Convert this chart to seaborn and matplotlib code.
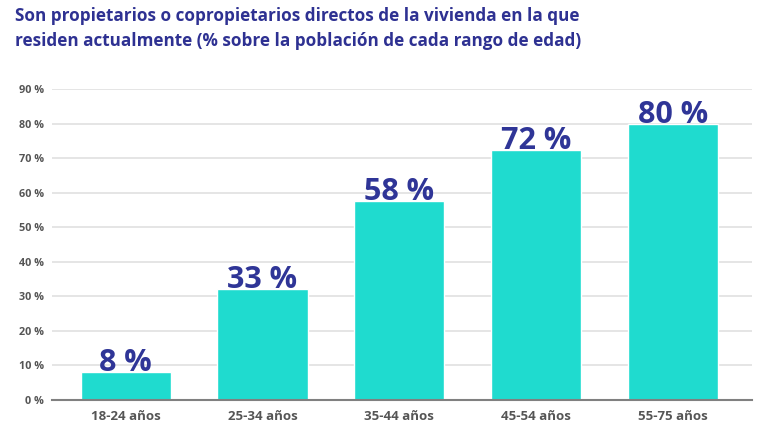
import matplotlib.pyplot as plt
import seaborn as sns
import pandas as pd

# datos
rangos = ["18-24 años", "25-34 años", "35-44 años", "45-54 años", "55-75 años"]
valores = [8.2, 32.2, 57.6, 72.4, 80.0]
etiquetas = ["8 %", "33 %", "58 %", "72 %", "80 %"]
ticks_y = [0, 10, 20, 30, 40, 50, 60, 70, 80, 90]

df = pd.DataFrame({"rango": rangos, "valor": valores})

sns.set_style("white")
plt.rcParams['font.family'] = ['Open Sans', 'DejaVu Sans']

fig = plt.figure(figsize=(7.69, 4.37), dpi=100)
ax = fig.add_axes([52 / 769, 37 / 437, 700 / 769, 311 / 437])

sns.barplot(data=df, x="rango", y="valor", color="#1fdbcf", saturation=1,
            width=0.66, ax=ax, zorder=3)

for p, txt in zip(ax.patches, etiquetas):
    ax.annotate(txt, (p.get_x() + p.get_width() / 2, p.get_height()),
                xytext=(0, 0.5), textcoords="offset points",
                ha="center", va="baseline", fontsize=22, fontweight="bold",
                color="#2f3597")

ax.set_ylim(0, 90)
ax.set_xlim(-0.54, 4.58)
ax.set_yticks(ticks_y)
ax.set_yticklabels([f"{t} %" for t in ticks_y], fontsize=7.8,
                   fontweight="bold", color="#555555")
ax.tick_params(axis="x", labelsize=9.5, labelcolor="#555555", length=0, pad=7)
ax.tick_params(axis="y", length=0, pad=6)
for lab in ax.get_xticklabels():
    lab.set_fontweight("bold")
ax.set_xlabel("")
ax.set_ylabel("")

ax.grid(axis="y", color="#e0e0e0", linewidth=1.2, zorder=0)
for s in ["top", "right", "left"]:
    ax.spines[s].set_visible(False)
ax.spines["bottom"].set_color("#808080")
ax.spines["bottom"].set_linewidth(1.5)
ax.spines["bottom"].set_zorder(4)

fig.text(15 / 769, 1 - 7 / 437,
         "Son propietarios o copropietarios directos de la vivienda en la que\n"
         "residen actualmente (% sobre la población de cada rango de edad)",
         ha="left", va="top", fontsize=12.3, fontweight="bold",
         color="#2e3192", linespacing=1.5)

fig.savefig("out.png", dpi=100)
